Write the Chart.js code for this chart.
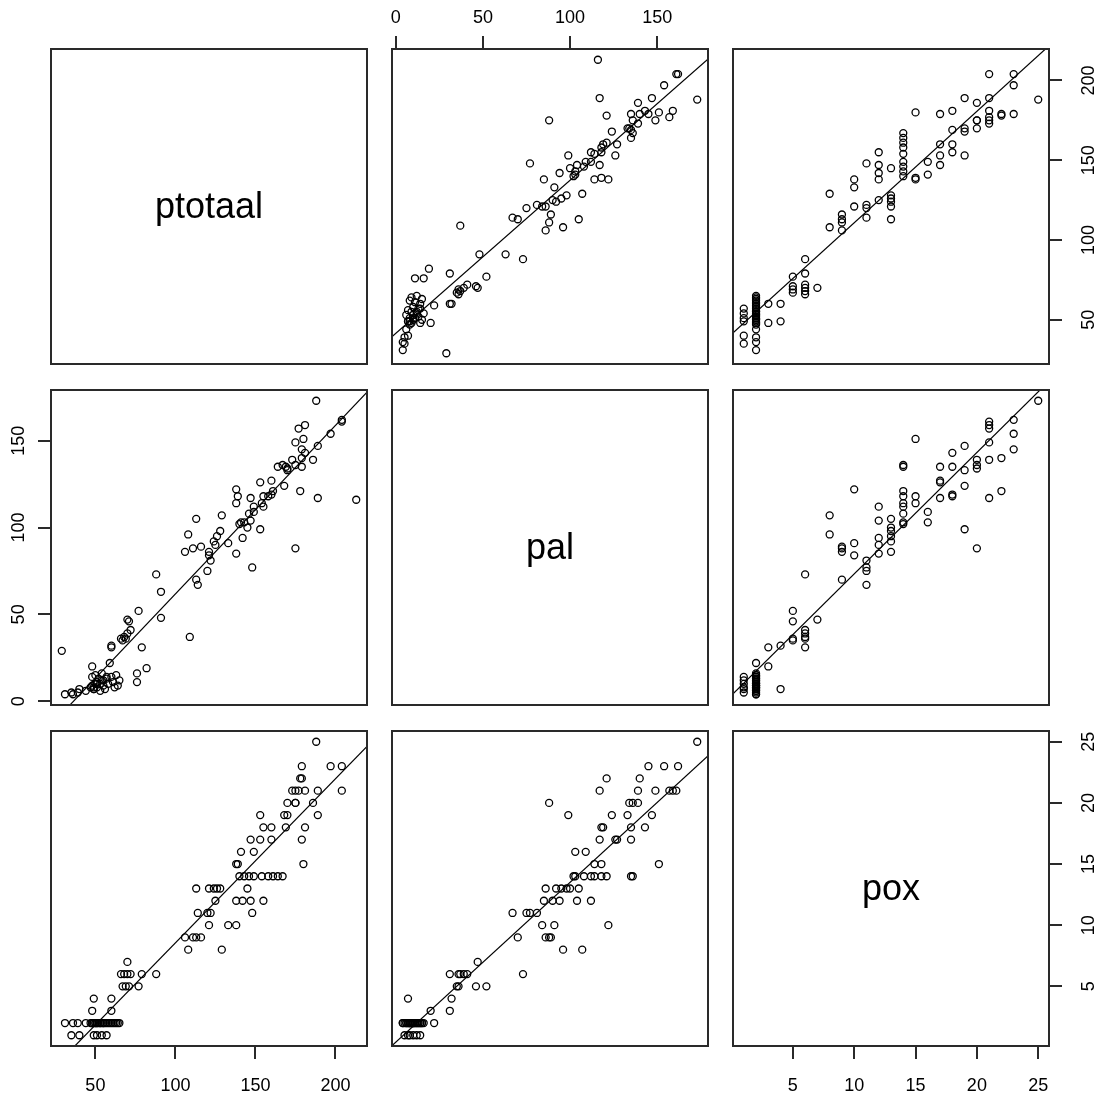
<!DOCTYPE html>
<html>
<head>
<meta charset="utf-8">
<script src="https://cdn.jsdelivr.net/npm/chart.js@4.4.1/dist/chart.umd.min.js"></script>
<style>
  html, body { margin: 0; padding: 0; background: #fff; }
  #wrap { position: relative; width: 1102px; height: 1099px; overflow: hidden; background: #fff; }
  #wrap canvas { position: absolute; }
</style>
</head>
<body>
<div id="wrap"></div>
<script>
// one row per observation, null = missing
var varNames = ['ptotaal', 'pal', 'pox'];

var ptotaal = [
    57, 54, 51, 49, 40, 35,
    65, 64, 63, 62, 61, 60, 59, 58, 57, 56, 55, 55, 54, 53, 53, 52, 51, 51, 50, 50, 49, 48, 48, 47, 44, 39, 36, 31,
    60, 48,
    60, 49,
    77, 71, 69, 67,
    88, 79, 72, 70, 68, 66,
    70,
    129, 108,
    116, 113, 111, 106,
    138, 133, 121,
    148, 122, 120, 114,
    155, 147, 142, 138, 125,
    145, 128, 126, 124, 121, 113,
    167, 164, 161, 158, 154, 149, 146, 143, 140,
    180, 139, 138,
    149, 141,
    179, 160, 153, 147,
    181, 169, 160, 155,
    189, 170, 168, 153,
    186, 175, 175, 170,
    204, 189, 181, 177, 175, 173,
    179, 178,
    204, 197, 179,
    188,
    213, 29, 76, 76, 82, 109, 91, 91
];

var pal = [
    14, 12, 10, 8, 7, 5,
    12, 9, 15, 8, 11, 14, 22, 10, 13, 7, 12, 9, 16, 10, 6, 13, 8, 11, 15, 10, 7, 14, 9, 8, 6, 5, 4, 4,
    31, 20,
    32, 7,
    52, 46, 36, 35,
    73, 31, 41, 39, 37, 36,
    47,
    107, 96,
    89, 70, 88, 86,
    122, 91, 84,
    77, 81, 75, 67,
    112, 104, 94, 85, 90,
    100, 98, 95, 92, 86, 105,
    136, 135, 121, 118, 114, 112, 108, 103, 102,
    151, 118, 114,
    109, 103,
    135, 127, 126, 117,
    143, 135, 119, 118,
    147, 133, 124, 99,
    139, 136, 88, 134,
    161, 117, 159, 157, 149, 139,
    140, 121,
    162, 154, 145,
    173,
    116, 29, 11, 16, 19, 37, 48, 63
];

var pox = [
    1, 1, 1, 1, 1, 1,
    2, 2, 2, 2, 2, 2, 2, 2, 2, 2, 2, 2, 2, 2, 2, 2, 2, 2, 2, 2, 2, 2, 2, 2, 2, 2, 2, 2,
    3, 3,
    4, 4,
    5, 5, 5, 5,
    6, 6, 6, 6, 6, 6,
    7,
    8, 8,
    9, 9, 9, 9,
    10, 10, 10,
    11, 11, 11, 11,
    12, 12, 12, 12, 12,
    13, 13, 13, 13, 13, 13,
    14, 14, 14, 14, 14, 14, 14, 14, 14,
    15, 15, 15,
    16, 16,
    17, 17, 17, 17,
    18, 18, 18, 18,
    19, 19, 19, 19,
    20, 20, 20, 20,
    21, 21, 21, 21, 21, 21,
    22, 22,
    23, 23, 23,
    25,
    null, null, null, null, null, null, null, null
];

var ptotaalTicks = [50, 100, 150, 200];
var palTicks = [0, 50, 100, 150];
var poxTicks = [5, 10, 15, 20, 25];

var columns = [ptotaal, pal, pox];
var tickSets = [ptotaalTicks, palTicks, poxTicks];

// panel boxes on the page
var boxLeft = [50, 391, 732];
var boxTop = [48, 389, 730];
var boxW = 318, boxH = 317;
var TICK = 12;
var INK = '#2a2a2a';
var FONT = '"Liberation Sans", Arial, Helvetica, sans-serif';
var FONT_SIZE = 18;
var pads = { top: 46, bottom: 52, left: 48, right: 52 };

// R style axis range: data range stretched by 4%
function axisRange(v) {
    var a = v.filter(function (x) { return x !== null; });
    var lo = Math.min.apply(null, a), hi = Math.max.apply(null, a);
    var ext = 0.04 * (hi - lo);
    return [lo - ext, hi + ext];
}
var ranges = columns.map(axisRange);

// least squares y = a + b x on complete pairs
function fitLine(xs, ys) {
    var n = 0, sx = 0, sy = 0, sxx = 0, sxy = 0;
    for (var i = 0; i < xs.length; i++) {
        if (xs[i] === null || ys[i] === null) continue;
        n++; sx += xs[i]; sy += ys[i];
        sxx += xs[i] * xs[i]; sxy += xs[i] * ys[i];
    }
    var b = (n * sxy - sx * sy) / (n * sxx - sx * sx);
    return { a: (sy - b * sx) / n, b: b };
}

var measureCtx = document.createElement('canvas').getContext('2d');
measureCtx.font = FONT_SIZE + 'px ' + FONT;
function widest(labels) {
    var w = 0;
    labels.forEach(function (l) { w = Math.max(w, measureCtx.measureText(String(l)).width); });
    return w;
}

function axisConfig(k, pos, shown) {
    var horiz = pos === 'top' || pos === 'bottom';
    var ticks = tickSets[k];
    var lh = FONT_SIZE * 1.2;
    var pad;
    // label centres: 30px out on left/top, 39px out on right/bottom
    if (pos === 'top') pad = 30 - TICK - lh / 2;
    else if (pos === 'bottom') pad = 39 - TICK - lh / 2;
    else if (pos === 'left') pad = 31 - TICK - widest(ticks) / 2;
    else pad = 39 - TICK - widest(ticks) / 2;
    return {
        type: 'linear',
        position: pos,
        display: shown,
        min: ranges[k][0],
        max: ranges[k][1],
        bounds: 'data',
        afterBuildTicks: function (s) {
            s.ticks = ticks.map(function (v) { return { value: v }; });
        },
        afterFit: function (s) {
            if (!shown) { s.width = 0; s.height = 0; return; }
            if (horiz) s.height = pads[pos]; else s.width = pads[pos];
            s.paddingLeft = 0; s.paddingRight = 0; s.paddingTop = 0; s.paddingBottom = 0;
        },
        grid: { drawOnChartArea: false, drawTicks: true, tickLength: TICK, color: INK, lineWidth: 2 },
        border: { display: false },
        ticks: {
            autoSkip: false,
            color: '#000',
            font: { family: FONT, size: FONT_SIZE },
            padding: pad,
            minRotation: horiz ? 0 : 90,
            maxRotation: horiz ? 0 : 90,
            crossAlign: horiz ? 'near' : 'center',
            callback: function (v) { return String(v); }
        }
    };
}

var framePlugin = {
    id: 'frame',
    afterDraw: function (chart, args, opts) {
        var a = chart.chartArea, ctx = chart.ctx;
        ctx.save();
        ctx.strokeStyle = INK;
        ctx.lineWidth = 2;
        ctx.strokeRect(a.left + 1, a.top + 1, a.width - 2, a.height - 2);
        if (opts && opts.label) {
            ctx.font = '36px ' + FONT;
            ctx.fillStyle = '#000';
            ctx.textAlign = 'center';
            ctx.textBaseline = 'alphabetic';
            ctx.fillText(opts.label, (a.left + a.right) / 2, (a.top + a.bottom) / 2 + 11.5);
        }
        ctx.restore();
    }
};

var wrap = document.getElementById('wrap');

for (var i = 0; i < 3; i++) {
    for (var j = 0; j < 3; j++) {
        var hasTop = i === 0 && j % 2 === 1;
        var hasBottom = i === 2 && j % 2 === 0;
        var hasLeft = j === 0 && i % 2 === 1;
        var hasRight = j === 2 && i % 2 === 0;

        var pT = hasTop ? pads.top : 2;
        var pB = hasBottom ? pads.bottom : 2;
        var pL = hasLeft ? pads.left : 2;
        var pR = hasRight ? pads.right : 2;

        var cv = document.createElement('canvas');
        cv.width = boxW + pL + pR;
        cv.height = boxH + pT + pB;
        cv.style.left = (boxLeft[j] - pL) + 'px';
        cv.style.top = (boxTop[i] - pT) + 'px';
        cv.style.width = cv.width + 'px';
        cv.style.height = cv.height + 'px';
        wrap.appendChild(cv);

        var datasets = [];
        if (i !== j) {
            var xs = columns[j], ys = columns[i];
            var pts = [];
            for (var n = 0; n < xs.length; n++) {
                if (xs[n] !== null && ys[n] !== null) pts.push({ x: xs[n], y: ys[n] });
            }
            var fit = fitLine(xs, ys);
            var xr = ranges[j];
            datasets.push({
                data: pts,
                pointStyle: 'circle',
                pointRadius: 3.5,
                pointBorderWidth: 1.3,
                borderColor: '#000',
                backgroundColor: 'rgba(0,0,0,0)',
                showLine: false
            });
            datasets.push({
                data: [{ x: xr[0], y: fit.a + fit.b * xr[0] }, { x: xr[1], y: fit.a + fit.b * xr[1] }],
                showLine: true,
                pointRadius: 0,
                borderColor: '#000',
                borderWidth: 1.2,
                fill: false
            });
        }

        new Chart(cv.getContext('2d'), {
            type: 'scatter',
            data: { datasets: datasets },
            options: {
                responsive: false,
                animation: false,
                events: [],
                layout: {
                    autoPadding: false,
                    padding: { top: hasTop ? 0 : pT, bottom: hasBottom ? 0 : pB, left: hasLeft ? 0 : pL, right: hasRight ? 0 : pR }
                },
                plugins: {
                    legend: { display: false },
                    tooltip: { enabled: false },
                    frame: { label: i === j ? varNames[i] : null }
                },
                scales: {
                    x: axisConfig(j, hasTop ? 'top' : 'bottom', hasTop || hasBottom),
                    y: axisConfig(i, hasRight ? 'right' : 'left', hasLeft || hasRight)
                }
            },
            plugins: [framePlugin]
        });
    }
}
</script>
</body>
</html>
